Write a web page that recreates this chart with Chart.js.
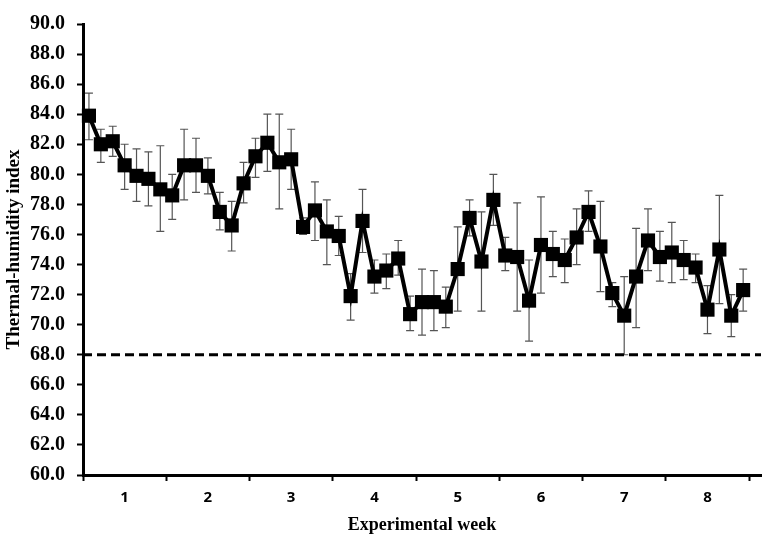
<!DOCTYPE html>
<html>
<head>
<meta charset="utf-8">
<script src="https://cdn.jsdelivr.net/npm/chart.js@4/dist/chart.umd.min.js"></script>
<style>
html,body{margin:0;padding:0;background:#fff;}
#wrap{width:771px;height:540px;}
</style>
</head>
<body>
<div id="wrap"><canvas id="c" width="771" height="540"></canvas></div>
<script>
// ---- data ----
const weekLabels = ['1','2','3','4','5','6','7','8'];
const daysPerWeek = 7;
const thiMean = [
  83.9, 82.0, 82.2, 80.6, 79.9, 79.7, 79.0,
  78.6, 80.6, 80.6, 79.9, 77.5, 76.6, 79.4,
  81.2, 82.1, 80.8, 81.0, 76.5, 77.6, 76.2,
  75.9, 71.9, 76.9, 73.2, 73.6, 74.4, 70.7,
  71.5, 71.5, 71.2, 73.7, 77.1, 74.2, 78.3,
  74.6, 74.5, 71.6, 75.3, 74.7, 74.3, 75.8,
  77.5, 75.2, 72.1, 70.6, 73.2, 75.6, 74.5,
  74.8, 74.3, 73.8, 71.0, 75.0, 70.6, 72.3
];
const thiUpper = [
  85.4, 83.0, 83.2, 82.0, 81.7, 81.5, 81.9,
  80.0, 83.0, 82.4, 81.1, 78.8, 78.2, 80.8,
  82.4, 84.0, 84.0, 83.0, 77.1, 79.5, 78.3,
  77.2, 73.4, 79.0, 74.3, 74.7, 75.6, 71.9,
  73.7, 73.6, 72.5, 76.5, 78.3, 77.5, 80.0,
  75.8, 78.1, 74.3, 78.5, 76.2, 75.7, 77.7,
  78.9, 78.2, 72.8, 73.2, 76.4, 77.7, 76.2,
  76.8, 75.6, 74.7, 72.6, 78.6, 72.0, 73.7
];
const thiLower = [
  82.3, 80.8, 81.2, 79.0, 78.2, 77.9, 76.2,
  77.0, 78.3, 78.8, 78.7, 76.3, 74.9, 78.1,
  79.8, 80.2, 77.7, 79.0, 76.0, 75.6, 74.0,
  74.6, 70.3, 74.8, 72.1, 72.4, 73.3, 69.6,
  69.3, 69.6, 69.8, 70.9, 75.9, 70.9, 76.6,
  73.6, 70.9, 68.9, 72.1, 73.2, 72.8, 74.0,
  76.2, 72.2, 71.2, 68.0, 69.8, 73.6, 72.9,
  72.8, 73.0, 72.8, 69.4, 71.4, 69.2, 70.9
];
const threshold = 68;
const yMin = 60, yMax = 90, yStep = 2;

// ---- build ----
const nSlots = weekLabels.length * daysPerWeek + 1;
const points = thiMean.map((v, i) => ({x: i + 0.5, y: v}));
const thresholdPts = [{x: 0, y: threshold}, {x: nSlots, y: threshold}];

const errorBars = {
  id: 'errorBars',
  beforeDatasetsDraw(chart) {
    const xs = chart.scales.x, ys = chart.scales.y, ctx = chart.ctx;
    ctx.save();
    ctx.strokeStyle = '#555';
    ctx.lineWidth = 1.2;
    const cap = 4;
    thiMean.forEach((v, i) => {
      const px = xs.getPixelForValue(i + 0.5);
      const pu = ys.getPixelForValue(thiUpper[i]);
      const pl = ys.getPixelForValue(thiLower[i]);
      ctx.beginPath();
      ctx.moveTo(px, pu); ctx.lineTo(px, pl);
      ctx.moveTo(px - cap, pu); ctx.lineTo(px + cap, pu);
      ctx.moveTo(px - cap, pl); ctx.lineTo(px + cap, pl);
      ctx.stroke();
    });
    ctx.restore();
  }
};

const serif = "'Liberation Serif', 'Times New Roman', serif";
const sans = "'Open Sans', 'Liberation Sans', Arial, sans-serif";

new Chart(document.getElementById('c'), {
  type: 'line',
  data: {
    datasets: [
      {
        data: points,
        borderColor: '#000',
        borderWidth: 4,
        backgroundColor: '#000',
        pointStyle: 'rect',
        pointRadius: 10,
        pointHoverRadius: 10,
        pointBackgroundColor: '#000',
        pointBorderColor: '#000',
        pointBorderWidth: 0,
        tension: 0,
        clip: false,
        order: 1
      },
      {
        data: thresholdPts,
        borderColor: '#000',
        borderWidth: 3,
        borderDash: [9, 5],
        pointRadius: 0,
        tension: 0,
        clip: false,
        order: 2
      }
    ]
  },
  options: {
    responsive: false,
    animation: false,
    events: [],
    layout: {padding: {top: 17, right: 8, left: 0, bottom: 0}},
    plugins: {legend: {display: false}, tooltip: {enabled: false}},
    scales: {
      x: {
        type: 'linear',
        min: 0,
        max: nSlots,
        afterBuildTicks(scale) {
          const t = [];
          for (let w = 0; w <= weekLabels.length; w++) {
            t.push({value: w * daysPerWeek});
            if (w < weekLabels.length) t.push({value: w * daysPerWeek + daysPerWeek / 2});
          }
          scale.ticks = t;
        },
        afterFit(scale) { scale.height = 65; },
        border: {display: true, color: '#000', width: 3},
        grid: {
          display: true,
          drawOnChartArea: false,
          drawTicks: true,
          tickLength: 6,
          tickWidth: 2,
          tickColor: (ctx) => (ctx.tick && ctx.tick.value % daysPerWeek === 0) ? '#000' : 'rgba(0,0,0,0)'
        },
        ticks: {
          autoSkip: false,
          maxRotation: 0,
          padding: 8,
          color: '#000',
          font: {family: sans, size: 15, weight: 'bold'},
          callback: (v) => {
            const k = (v - daysPerWeek / 2) / daysPerWeek;
            return Number.isInteger(k) ? weekLabels[k] : '';
          }
        },
        title: {
          display: true,
          text: 'Experimental week',
          color: '#000',
          font: {family: serif, size: 18, weight: 'bold'},
          padding: {top: 4, bottom: 4}
        }
      },
      y: {
        min: yMin,
        max: yMax,
        afterFit(scale) { scale.width = 83; },
        border: {display: true, color: '#000', width: 3},
        grid: {
          display: true,
          drawOnChartArea: false,
          drawTicks: true,
          tickLength: 6,
          tickWidth: 2,
          tickColor: '#000'
        },
        ticks: {
          stepSize: yStep,
          padding: 12,
          color: '#000',
          font: {family: serif, size: 20, weight: 'bold'},
          callback: (v) => Number(v).toFixed(1)
        },
        title: {
          display: true,
          text: 'Thermal-humidity index',
          color: '#000',
          font: {family: serif, size: 19, weight: 'bold'},
          padding: {top: 3, bottom: 0}
        }
      }
    }
  },
  plugins: [errorBars]
});
</script>
</body>
</html>
